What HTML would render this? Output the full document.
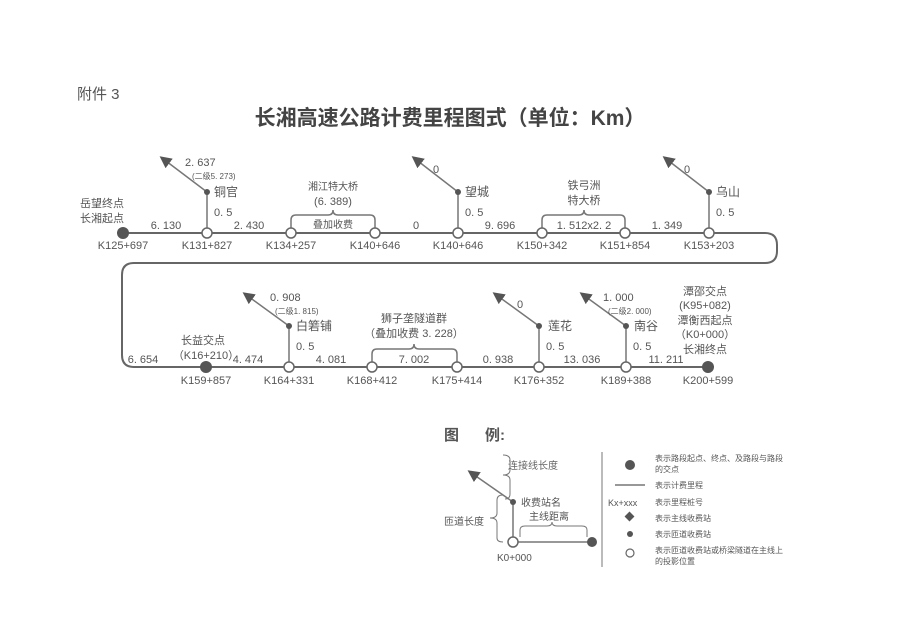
<!DOCTYPE html>
<html><head><meta charset="utf-8"><style>
body{margin:0;background:#fff;}
svg text{font-family:"Liberation Sans","Noto Sans CJK SC",sans-serif;fill:#555;}
</style></head><body>
<svg width="900" height="635" viewBox="0 0 900 635" xmlns="http://www.w3.org/2000/svg">
<defs><marker id="ar" markerWidth="8" markerHeight="8" refX="6" refY="4" orient="auto"><path d="M0,0 L8,4 L0,8 Z" fill="#555"/></marker></defs>
<text x="77" y="99" font-size="15">附件 3</text>
<text x="450" y="125" font-size="21" font-weight="bold" text-anchor="middle" style="fill:#444">长湘高速公路计费里程图式（单位：Km）</text>

<g stroke="#666" stroke-width="2" fill="none">
<path d="M123,233 H765 Q777,233 777,245 V251 Q777,263 765,263 H134 Q122,263 122,275 V355 Q122,367 134,367 H708"/>
</g>
<!-- toll connectors -->
<g stroke="#777" stroke-width="1.5" fill="none">
<path d="M207,233 V192 L162,158" marker-end="url(#ar)"/>
<path d="M458,233 V192 L414,158" marker-end="url(#ar)"/>
<path d="M709,233 V192 L665,158" marker-end="url(#ar)"/>
<path d="M289,367 V326 L245,294" marker-end="url(#ar)"/>
<path d="M539,367 V326 L495,294" marker-end="url(#ar)"/>
<path d="M626,367 V326 L582,294" marker-end="url(#ar)"/>
<!-- braces -->
<path d="M291,228 V220 Q291,215 296,215 H328 Q333,215 333,210 Q333,215 338,215 H370 Q375,215 375,220 V228"/>
<path d="M542,228 V220 Q542,215 547,215 H579 Q584,215 584,210 Q584,215 589,215 H620 Q625,215 625,220 V228"/>
<path d="M372,362 V354 Q372,349 377,349 H409 Q414,349 414,344 Q414,349 419,349 H452 Q457,349 457,354 V362"/>
</g>
<g fill="#555"><circle cx="207" cy="192" r="3"/><circle cx="458" cy="192" r="3"/><circle cx="709" cy="192" r="3"/><circle cx="289" cy="326" r="3"/><circle cx="539" cy="326" r="3"/><circle cx="626" cy="326" r="3"/>
<circle cx="123" cy="233" r="6"/><circle cx="206" cy="367" r="6"/><circle cx="708" cy="367" r="6"/></g>
<g fill="#fff" stroke="#666" stroke-width="1.5">
<circle cx="207" cy="233" r="5"/><circle cx="291" cy="233" r="5"/><circle cx="375" cy="233" r="5"/><circle cx="458" cy="233" r="5"/><circle cx="542" cy="233" r="5"/><circle cx="625" cy="233" r="5"/><circle cx="709" cy="233" r="5"/>
<circle cx="289" cy="367" r="5"/><circle cx="372" cy="367" r="5"/><circle cx="457" cy="367" r="5"/><circle cx="539" cy="367" r="5"/><circle cx="626" cy="367" r="5"/></g>

<g font-size="11" text-anchor="middle">
<text x="123" y="249">K125+697</text><text x="207" y="249">K131+827</text><text x="291" y="249">K134+257</text><text x="375" y="249">K140+646</text><text x="458" y="249">K140+646</text><text x="542" y="249">K150+342</text><text x="625" y="249">K151+854</text><text x="709" y="249">K153+203</text>
<text x="206" y="384">K159+857</text><text x="289" y="384">K164+331</text><text x="372" y="384">K168+412</text><text x="457" y="384">K175+414</text><text x="539" y="384">K176+352</text><text x="626" y="384">K189+388</text><text x="708" y="384">K200+599</text>
<text x="166" y="229">6. 130</text><text x="249" y="229">2. 430</text><text x="416" y="229">0</text><text x="500" y="229">9. 696</text><text x="584" y="229">1. 512x2. 2</text><text x="667" y="229">1. 349</text>
<text x="143" y="363">6. 654</text><text x="248" y="363">4. 474</text><text x="331" y="363">4. 081</text><text x="414" y="363">7. 002</text><text x="498" y="363">0. 938</text><text x="582" y="363">13. 036</text><text x="666" y="363">11. 211</text>
<text x="333" y="228" font-size="10">叠加收费</text>
<text x="333" y="190" font-size="10">湘江特大桥</text><text x="333" y="205" font-size="11">(6. 389)</text>
<text x="584" y="189" font-size="11">铁弓洲</text><text x="584" y="204" font-size="11">特大桥</text>
<text x="414" y="322" font-size="11">狮子垄隧道群</text><text x="414" y="337" font-size="11">（叠加收费 3. 228）</text>
<text x="102" y="207" font-size="11">岳望终点</text><text x="102" y="222" font-size="11">长湘起点</text>
<text x="203" y="344" font-size="11">长益交点</text><text x="206" y="359" font-size="11">（K16+210）</text>
<text x="705" y="295" font-size="11">潭邵交点</text><text x="705" y="309" font-size="11">(K95+082)</text><text x="705" y="324" font-size="11">潭衡西起点</text><text x="705" y="338" font-size="11">（K0+000）</text><text x="705" y="353" font-size="11">长湘终点</text>
</g>
<g font-size="11">
<text x="214" y="216">0. 5</text><text x="465" y="216">0. 5</text><text x="716" y="216">0. 5</text>
<text x="296" y="350">0. 5</text><text x="546" y="350">0. 5</text><text x="633" y="350">0. 5</text>
<text x="214" y="196" font-size="12">铜官</text><text x="465" y="196" font-size="12">望城</text><text x="716" y="196" font-size="12">乌山</text>
<text x="296" y="330" font-size="12">白箬铺</text><text x="548" y="330" font-size="12">莲花</text><text x="634" y="330" font-size="12">南谷</text>
<text x="185" y="166">2. 637</text><text x="192" y="179" font-size="8">(二级5. 273)</text>
<text x="433" y="173">0</text><text x="684" y="173">0</text>
<text x="270" y="301">0. 908</text><text x="275" y="314" font-size="8">(二级1. 815)</text>
<text x="517" y="308">0</text><text x="603" y="301">1. 000</text><text x="608" y="314" font-size="8">(二级2. 000)</text>
</g>

<!-- legend -->
<text x="444" y="440" font-size="15" font-weight="bold" style="fill:#555">图</text>
<text x="485" y="440" font-size="15" font-weight="bold" style="fill:#555">例:</text>
<g stroke="#777" stroke-width="1.5" fill="none">
<path d="M513,542 V502 L470,472" marker-end="url(#ar)"/>
<path d="M513,542 H591"/>
<path d="M503,495 Q497,495 497,500 V513 Q497,518 490,518 Q497,518 497,523 V538 Q497,542 503,542" stroke-width="1"/>
<path d="M505,499 Q510,499 510,494 V480 Q510,475 503,475 Q510,475 510,470 V460 Q510,455 503,455" stroke-width="1"/>
<path d="M520,537 V530 Q520,526 525,526 H547 Q552,526 552,522 Q552,526 557,526 H582 Q587,526 587,530 V537" stroke-width="1"/>
<path d="M602,452 V567" stroke-width="1"/>
<path d="M615,485 H645"/>
</g>
<circle cx="513" cy="502" r="3" fill="#555"/>
<circle cx="513" cy="542" r="5" fill="#fff" stroke="#666" stroke-width="1.5"/>
<circle cx="592" cy="542" r="5" fill="#555"/>
<g font-size="10">
<text x="508" y="469" style="fill:#666">连接线长度</text>
<text x="521" y="506">收费站名</text>
<text x="529" y="520">主线距离</text>
<text x="444" y="525">匝道长度</text>
<text x="497" y="561">K0+000</text>
<text x="608" y="506" font-size="9">Kx+xxx</text>
<text x="655" y="461" font-size="8">表示路段起点、终点、及路段与路段</text>
<text x="655" y="472" font-size="8">的交点</text>
<text x="655" y="488" font-size="8">表示计费里程</text>
<text x="655" y="505" font-size="8">表示里程桩号</text>
<text x="655" y="521" font-size="8">表示主线收费站</text>
<text x="655" y="537" font-size="8">表示匝道收费站</text>
<text x="655" y="553" font-size="8">表示匝道收费站或桥梁隧道在主线上</text>
<text x="655" y="564" font-size="8">的投影位置</text>
</g>
<circle cx="630" cy="465" r="5" fill="#555"/>
<rect x="626" y="513" width="7" height="7" fill="#555" transform="rotate(45 629.5 516.5)"/>
<circle cx="630" cy="534" r="3" fill="#555"/>
<circle cx="630" cy="553" r="4" fill="#fff" stroke="#666" stroke-width="1.2"/>
</svg>
</body></html>
